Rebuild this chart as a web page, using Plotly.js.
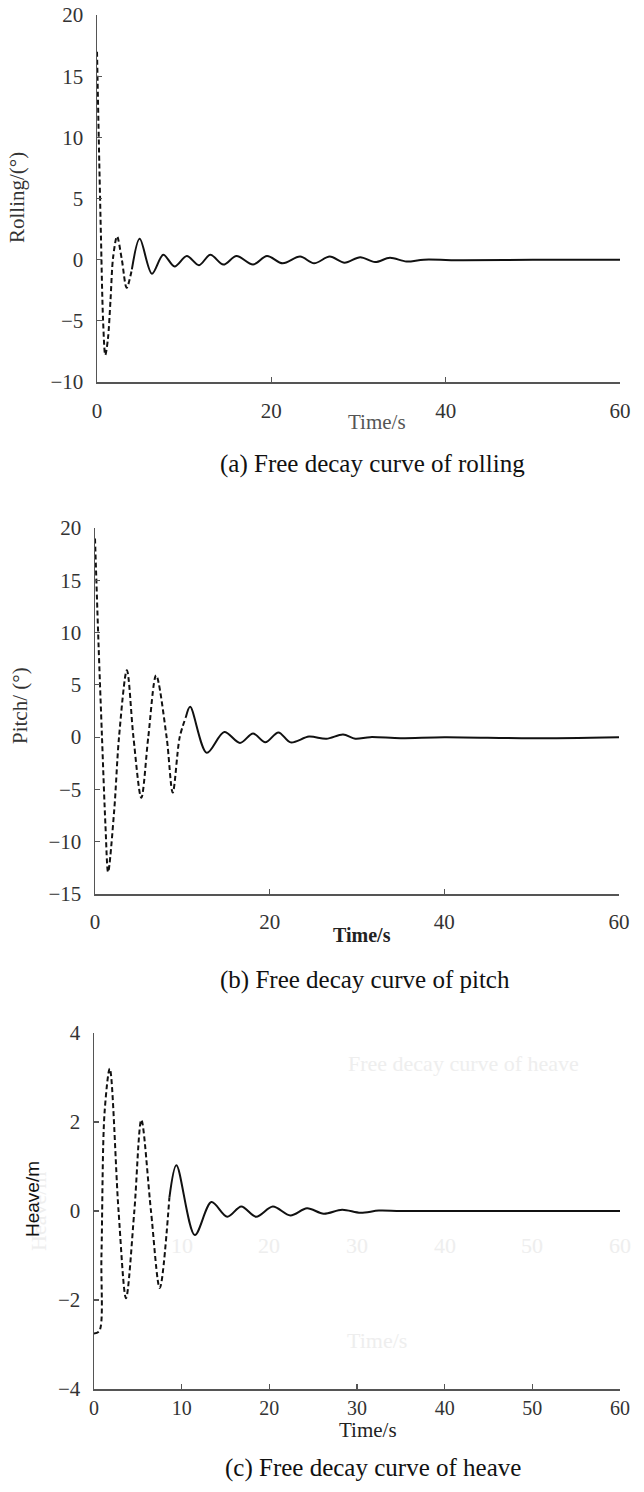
<!DOCTYPE html>
<html>
<head>
<meta charset="utf-8">
<script src="https://cdn.plot.ly/plotly-3.0.1.min.js"></script>
<style>
html,body{margin:0;padding:0;background:#fff;}
#chart{width:644px;height:1492px;}
</style>
</head>
<body>
<div id="chart"></div>
<script>
// ---------- data ----------
// (a) Rolling (deg) vs time (s)
const rollDashT  = [0, 0.2, 0.45, 0.7, 0.95, 1.25, 1.55, 1.85, 2.3, 2.85, 3.4, 4.0];
const rollDashV  = [17, 10, 2, -5, -7.8, -6.5, -3.3, 0.2, 1.9, 0.0, -2.3, -0.8];
const rollSolidT = [4.0, 4.9, 6.3, 7.6, 8.9, 10.3, 11.7, 13.0, 14.5, 16.0, 17.9, 19.5, 21.3, 23.3, 24.9, 26.7, 28.4, 30.2, 31.9, 33.6, 35.5, 37.5, 42, 50, 60];
const rollSolidV = [-0.8, 1.7, -1.15, 0.4, -0.55, 0.3, -0.45, 0.4, -0.4, 0.3, -0.4, 0.3, -0.3, 0.25, -0.3, 0.25, -0.25, 0.2, -0.2, 0.15, -0.15, 0.0, -0.05, 0, 0];

// (b) Pitch (deg) vs time (s)
const pitchDashT  = [0, 0.4, 0.8, 1.2, 1.5, 2.2, 2.75, 3.65, 4.4, 5.3, 6.1, 7.0, 8.2, 8.9, 9.7, 10.4];
const pitchDashV  = [19, 9, 0, -8.5, -12.9, -7, 0, 6.4, 0, -5.8, 0, 5.9, 0, -5.3, 0, 1.9];
const pitchSolidT = [10.4, 10.9, 12.8, 14.8, 16.6, 18.1, 19.5, 21.0, 22.4, 24.5, 26.5, 28.4, 29.8, 31.5, 35, 40, 50, 60];
const pitchSolidV = [1.9, 2.9, -1.5, 0.5, -0.55, 0.35, -0.5, 0.45, -0.5, 0.05, -0.15, 0.25, -0.15, 0, -0.1, 0, -0.1, 0];

// (c) Heave (m) vs time (s)
const heaveDashT  = [0, 0.6, 0.85, 1.2, 1.8, 2.8, 3.65, 4.6, 5.4, 6.5, 7.5, 8.6];
const heaveDashV  = [-2.75, -2.7, -1.0, 2.2, 3.2, 0, -1.96, 0, 2.05, 0, -1.73, 0.3];
const heaveSolidT = [8.6, 9.4, 11.5, 13.4, 15.2, 16.8, 18.5, 20.4, 22.4, 24.3, 26.2, 28.3, 30.4, 32.5, 35, 45, 60];
const heaveSolidV = [0.3, 1.03, -0.54, 0.2, -0.13, 0.1, -0.13, 0.1, -0.1, 0.06, -0.06, 0.03, -0.04, 0.01, 0, 0, 0];

// axis ticks
const rollTicksY  = [-10, -5, 0, 5, 10, 15, 20];
const pitchTicksY = [-15, -10, -5, 0, 5, 10, 15, 20];
const heaveTicksY = [-4, -2, 0, 2, 4];
const timeTicksAB = [0, 20, 40, 60];
const timeTicksC  = [0, 10, 20, 30, 40, 50, 60];
const ghostTicksC = [10, 20, 30, 40, 50, 60];

// ---------- layout helpers ----------
const W = 644, H = 1492;
const px = v => v / W;
const py = v => 1 - v / H;

const SERIF = 'Liberation Serif, Times New Roman, serif';
const SANS = 'Liberation Sans, Arial, sans-serif';

function dashTrace(x, y, xa, ya) {
  return {x: x, y: y, xaxis: xa, yaxis: ya, type: 'scatter', mode: 'lines',
    line: {color: '#111', width: 2, dash: '5px,3px', shape: 'spline', smoothing: 0.9},
    hoverinfo: 'skip'};
}
function solidTrace(x, y, xa, ya) {
  return {x: x, y: y, xaxis: xa, yaxis: ya, type: 'scatter', mode: 'lines',
    line: {color: '#111', width: 2, shape: 'spline', smoothing: 0.9},
    hoverinfo: 'skip'};
}

const traces = [
  dashTrace(rollDashT, rollDashV, 'x', 'y'),
  solidTrace(rollSolidT, rollSolidV, 'x', 'y'),
  dashTrace(pitchDashT, pitchDashV, 'x2', 'y2'),
  solidTrace(pitchSolidT, pitchSolidV, 'x2', 'y2'),
  dashTrace(heaveDashT, heaveDashV, 'x3', 'y3'),
  solidTrace(heaveSolidT, heaveSolidV, 'x3', 'y3')
];

function xAxis(domain, ticks, anchor, standoff, fsize) {
  return {domain: domain, anchor: anchor, range: [0, 60], tickvals: ticks,
    ticktext: ticks.map(String), showgrid: false, zeroline: false,
    showline: true, linecolor: '#555', linewidth: 1.5,
    ticks: 'inside', ticklen: 5, tickwidth: 1.2, tickcolor: '#555',
    tickfont: {family: SERIF, size: fsize, color: '#333'},
    ticklabelstandoff: standoff, automargin: false, fixedrange: true};
}
function yAxis(domain, range, ticks, anchor) {
  return {domain: domain, anchor: anchor, range: range, tickvals: ticks,
    ticktext: ticks.map(v => v < 0 ? '\u2212' + Math.abs(v) : String(v)),
    showgrid: false, zeroline: false,
    showline: true, linecolor: '#555', linewidth: 1.5,
    ticks: 'inside', ticklen: 5, tickwidth: 1.2, tickcolor: '#555',
    tickfont: {family: SERIF, size: 21, color: '#333'},
    ticklabelstandoff: 8, automargin: false, fixedrange: true};
}

function ann(text, x, y, opts) {
  return Object.assign({text: text, x: px(x), y: py(y), xref: 'paper', yref: 'paper',
    xanchor: 'center', yanchor: 'middle', showarrow: false,
    font: {family: SERIF, size: 21, color: '#222'}}, opts || {});
}

const ghost = 'rgb(238,238,238)';
const annotations = [
  // (a)
  ann('Rolling/(°)', 17, 198, {textangle: -90, font: {family: SERIF, size: 21, color: '#333'}}),
  ann('Time/s', 377, 422, {font: {family: SERIF, size: 21, color: '#555'}}),
  ann('(a) Free decay curve of rolling', 373, 464, {font: {family: SERIF, size: 25, color: '#111'}}),
  // (b)
  ann('Pitch/ (°)', 20, 706, {textangle: -90, font: {family: SERIF, size: 21, color: '#333'}}),
  ann('<b>Time/s</b>', 362, 935, {font: {family: SERIF, size: 20, color: '#222'}}),
  ann('(b) Free decay curve of pitch', 365, 980, {font: {family: SERIF, size: 25, color: '#111'}}),
  // (c) ghost text
  ann('Free decay curve of heave', 463, 1063, {font: {family: SERIF, size: 22, color: ghost}}),
  ann('Time/s', 377, 1340, {font: {family: SERIF, size: 22, color: ghost}}),
  ann('Heave/m', 38, 1212, {textangle: -90, font: {family: SERIF, size: 22, color: ghost}}),
  // (c)
  ann('Heave/m', 32, 1199, {textangle: -90, font: {family: SANS, size: 19, color: '#111'}}),
  ann('Time/s', 368, 1430, {font: {family: SERIF, size: 21, color: '#222'}}),
  ann('(c) Free decay curve of heave', 373, 1468, {font: {family: SERIF, size: 25, color: '#111'}})
];
// ghost tick labels in panel (c), placed through the data axis
ghostTicksC.forEach(function (t) {
  annotations.push({text: String(t), x: t, y: py(1245), xref: 'x3', yref: 'paper',
    xanchor: 'center', yanchor: 'middle', showarrow: false,
    font: {family: SERIF, size: 22, color: ghost}});
});

const layout = {
  width: W, height: H,
  margin: {l: 0, r: 0, t: 0, b: 0, pad: 0},
  paper_bgcolor: '#fff', plot_bgcolor: '#fff',
  showlegend: false,
  xaxis:  xAxis([px(97), px(620)], timeTicksAB, 'y', 9, 21),
  yaxis:  yAxis([py(382), py(15)], [-10, 20], rollTicksY, 'x'),
  xaxis2: xAxis([px(95), px(619)], timeTicksAB, 'y2', 8, 21),
  yaxis2: yAxis([py(894), py(528)], [-15, 20], pitchTicksY, 'x2'),
  xaxis3: xAxis([px(94), px(620)], timeTicksC, 'y3', 0, 20),
  yaxis3: yAxis([py(1389), py(1033)], [-4, 4], heaveTicksY, 'x3'),
  annotations: annotations
};

Plotly.newPlot('chart', traces, layout, {staticPlot: true, displayModeBar: false});
</script>
</body>
</html>
